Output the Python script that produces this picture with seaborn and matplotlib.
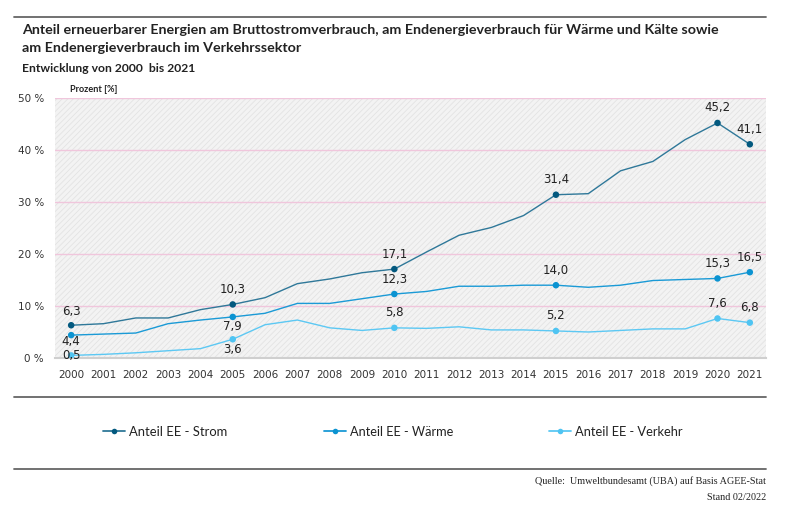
import matplotlib
matplotlib.use("Agg")
import matplotlib.pyplot as plt
from matplotlib import font_manager as fm
from matplotlib.lines import Line2D
from matplotlib.patches import Rectangle
import seaborn as sns
import pandas as pd

years = list(range(2000, 2022))
strom = [6.3, 6.6, 7.7, 7.7, 9.3, 10.3, 11.6, 14.3, 15.2, 16.4, 17.1, 20.4,
         23.6, 25.1, 27.4, 31.4, 31.6, 36.0, 37.8, 42.0, 45.2, 41.1]
waerme = [4.4, 4.6, 4.8, 6.6, 7.3, 7.9, 8.6, 10.5, 10.5, 11.4, 12.3, 12.8,
          13.8, 13.8, 14.0, 14.0, 13.6, 14.0, 14.9, 15.1, 15.3, 16.5]
verkehr = [0.5, 0.7, 1.0, 1.4, 1.8, 3.6, 6.4, 7.3, 5.8, 5.3, 5.8, 5.7,
           6.0, 5.4, 5.4, 5.2, 5.0, 5.3, 5.6, 5.6, 7.6, 6.8]
series_names = ["Anteil EE - Strom", "Anteil EE - Wärme", "Anteil EE - Verkehr"]
marked_years = [2000, 2005, 2010, 2015, 2020, 2021]
y_ticks = [0, 10, 20, 30, 40, 50]
y_tick_labels = ["0 %", "10 %", "20 %", "30 %", "40 %", "50 %"]

title_lines = ["Anteil erneuerbarer Energien am Bruttostromverbrauch, am Endenergieverbrauch für Wärme und Kälte sowie",
               "am Endenergieverbrauch im Verkehrssektor"]
subtitle = "Entwicklung von 2000  bis 2021"
source1 = "Quelle:  Umweltbundesamt (UBA) auf Basis AGEE-Stat"
source2 = "Stand 02/2022"

line_colors = ["#2f7899", "#1a9ad6", "#5cc8f3"]
marker_colors = ["#03597f", "#0b93d1", "#4fc4f2"]

# label offsets in pixels (positive = above the point centre)
label_offsets_px = {
    0: {2000: 14, 2005: 15, 2010: 15, 2015: 15, 2020: 15, 2021: 15},
    1: {2000: -6, 2005: -10, 2010: 15, 2015: 15, 2020: 15, 2021: 15},
    2: {2000: 0, 2005: -10, 2010: 15, 2015: 15, 2020: 15, 2021: 15},
}

df = pd.DataFrame({
    "Jahr": years * 3,
    "Wert": strom + waerme + verkehr,
    "Reihe": [series_names[0]] * len(years) + [series_names[1]] * len(years) + [series_names[2]] * len(years),
})

sns.set_theme(style="white")
plt.rcParams["font.family"] = ["DejaVu Sans"]
plt.rcParams["hatch.linewidth"] = 0.6

fig = plt.figure(figsize=(8, 5.15), dpi=100)
renderer = fig.canvas.get_renderer()

# choose the narrowest installed sans face for the condensed-looking texts
installed = {f.name for f in fm.fontManager.ttflist}
best_family, best_w = "DejaVu Sans", None
for fam in ["Roboto", "Lato", "Noto Sans", "Open Sans", "Liberation Sans", "DejaVu Sans"]:
    if fam not in installed:
        continue
    tt = fig.text(0, 0, title_lines[0], fontsize=11, fontweight="bold", family=fam)
    w = tt.get_window_extent(renderer=renderer).width
    tt.remove()
    if best_w is None or w < best_w:
        best_family, best_w = fam, w
cond = [best_family, "DejaVu Sans"]


def fit_text(x, y, s, target_px, base_size, **kw):
    t = fig.text(x, y, s, fontsize=base_size, family=cond, **kw)
    w = t.get_window_extent(renderer=renderer).width
    if w > 0:
        t.set_fontsize(base_size * target_px / w)
    return t


ax = fig.add_axes([55 / 800, 1 - 358 / 515, (766 - 55) / 800, (358 - 98) / 515])
ax.set_facecolor("none")
ax.add_patch(Rectangle((0, 0), 1, 1, transform=ax.transAxes, facecolor="#f3f3f3",
                       edgecolor="#e3e3e3", linewidth=0, hatch="//////", zorder=0))

for yv in y_ticks[1:]:
    ax.axhline(yv, color="#f0c6dc", linewidth=1.0, zorder=1)

sns.lineplot(data=df, x="Jahr", y="Wert", hue="Reihe", palette=line_colors,
             linewidth=1.0, legend=False, ax=ax, zorder=3)

dm = df[df["Jahr"].isin(marked_years)]
sns.scatterplot(data=dm, x="Jahr", y="Wert", hue="Reihe", palette=marker_colors,
                s=22, linewidth=0, legend=False, ax=ax, zorder=4)

for i, vals in enumerate([strom, waerme, verkehr]):
    for yr in marked_years:
        v = vals[years.index(yr)]
        dy = label_offsets_px[i][yr] * 72 / 100
        ax.annotate(f"{v:.1f}".replace(".", ","), (yr, v), xytext=(0, dy),
                    textcoords="offset points", ha="center", va="center",
                    fontsize=8.5, color="#222222", zorder=5)

ax.set_xlim(1999.5, 2021.5)
ax.set_ylim(0, 50)
ax.set_yticks(y_ticks)
ax.set_yticklabels(y_tick_labels, fontsize=7.5, color="#333333")
ax.set_xticks(years)
ax.set_xticklabels([str(y) for y in years], fontsize=7.5, color="#333333")
ax.set_xticks([y - 0.5 for y in years] + [2021.5], minor=True)
ax.tick_params(axis="x", which="major", length=0, pad=9)
ax.tick_params(axis="x", which="minor", length=4, width=1, color="#cfcfcf", direction="out")
ax.tick_params(axis="y", length=0, pad=8)
ax.set_xlabel("")
ax.set_ylabel("")
for s in ["top", "right", "left"]:
    ax.spines[s].set_visible(False)
ax.spines["bottom"].set_color("#cfcfcf")
ax.spines["bottom"].set_linewidth(1.5)

fit_text(70 / 800, 1 - 90 / 515, "Prozent [%]", 48, 7, fontweight="bold",
         color="#222222", va="center")

# header / footer rules
for yy in [17, 397, 469]:
    fig.add_artist(Line2D([14 / 800, 766 / 800], [1 - yy / 515] * 2, color="#666666",
                          linewidth=1.3, transform=fig.transFigure))

t1 = fit_text(22 / 800, 1 - 30 / 515, title_lines[0], 698, 11.5, fontweight="bold",
              color="#222222", va="center")
fig.text(22 / 800, 1 - 48 / 515, title_lines[1], fontweight="bold", family=cond,
         fontsize=t1.get_fontsize(), color="#222222", va="center")
fit_text(22 / 800, 1 - 68 / 515, subtitle, 174, 9, fontweight="bold",
         color="#222222", va="center")

leg_x = [103, 324, 549]
leg_w = [98, 103, 108]
for i in range(3):
    h = Line2D([0], [0], color=line_colors[i], linewidth=1.3, marker="o", markersize=4,
               markerfacecolor=marker_colors[i], markeredgewidth=0)
    leg = fig.legend([h], [series_names[i]], loc="center left",
                     bbox_to_anchor=(leg_x[i] / 800, 1 - 432 / 515), frameon=False,
                     handlelength=1.6, handletextpad=0.3, borderpad=0, borderaxespad=0,
                     prop=dict(size=10, family=cond))
    txt = leg.get_texts()[0]
    txt.set_color("#222222")
    w = txt.get_window_extent(renderer=renderer).width
    if w > 0:
        txt.set_fontsize(10 * leg_w[i] / w)

serif = ["Liberation Serif", "DejaVu Serif"]
fig.text(766 / 800, 1 - 481 / 515, source1, fontsize=7.3, family=serif,
         ha="right", va="center", color="#222222")
fig.text(766 / 800, 1 - 497 / 515, source2, fontsize=7.3, family=serif,
         ha="right", va="center", color="#222222")

fig.savefig("out.png", dpi=100)
